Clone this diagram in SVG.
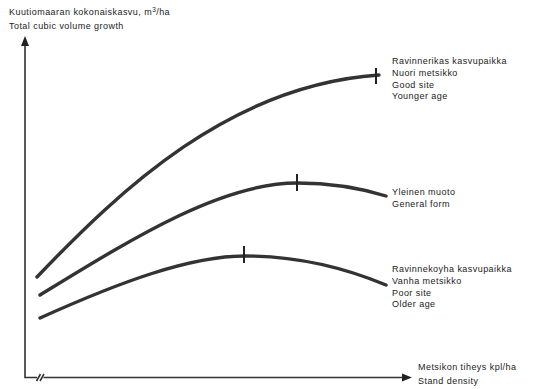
<svg xmlns="http://www.w3.org/2000/svg" width="538" height="389" viewBox="0 0 538 389">
<style>
text{font-family:"Liberation Sans",Arial,sans-serif;font-size:9px;fill:#222;letter-spacing:0.45px}
.axis{fill:none;stroke:#333;stroke-width:1.6}
.curve{fill:none;stroke:#333;stroke-width:3.4;stroke-linecap:round}
.tick{stroke:#222;stroke-width:2}
.head{fill:#222}
</style>
<rect width="538" height="389" fill="#fff"/>
<g id="axes">
<path class="axis" d="M25,44 V377.5 H37"/>
<path class="axis" d="M43.5,377.5 H404"/>
<path class="axis" d="M36.5,381 L40.5,374 M40,381 L44,374"/>
<polygon class="head" points="25,36 21,46 29,46"/>
<polygon class="head" points="412,377.5 402,373.5 402,381.5"/>
</g>
<g id="y-label">
<text x="9" y="15">Kuutiomaaran kokonaiskasvu, m<tspan font-size="6.5" dy="-3.5">3</tspan><tspan dy="3.5">/ha</tspan></text>
<text x="9" y="29">Total cubic volume growth</text>
</g>
<g id="x-label">
<text x="418" y="370">Metsikon tiheys  kpl/ha</text>
<text x="418" y="384">Stand density</text>
</g>
<g id="connectors">
<path id="curve-good" class="curve" d="M37,277 C120,190 230,85 379,75"/>
<path id="curve-general" class="curve" d="M40,295 C130,240 220,183 297,183 C330,183 360,188 386,196"/>
<path id="curve-poor" class="curve" d="M40,318 C120,282 190,256 245,256 C300,256 350,270 386,285"/>
<line class="tick" x1="376" y1="68" x2="376" y2="84"/>
<line class="tick" x1="297" y1="174" x2="297" y2="191"/>
<line class="tick" x1="244" y1="246" x2="244" y2="263"/>
</g>
<g id="label-good">
<text x="392" y="64">Ravinnerikas kasvupaikka</text>
<text x="392" y="76">Nuori metsikko</text>
<text x="392" y="88">Good site</text>
<text x="392" y="99">Younger age</text>
</g>
<g id="label-general">
<text x="392" y="195">Yleinen muoto</text>
<text x="392" y="207">General form</text>
</g>
<g id="label-poor">
<text x="392" y="272">Ravinnekoyha kasvupaikka</text>
<text x="392" y="284">Vanha metsikko</text>
<text x="392" y="296">Poor site</text>
<text x="392" y="307">Older age</text>
</g>
</svg>
